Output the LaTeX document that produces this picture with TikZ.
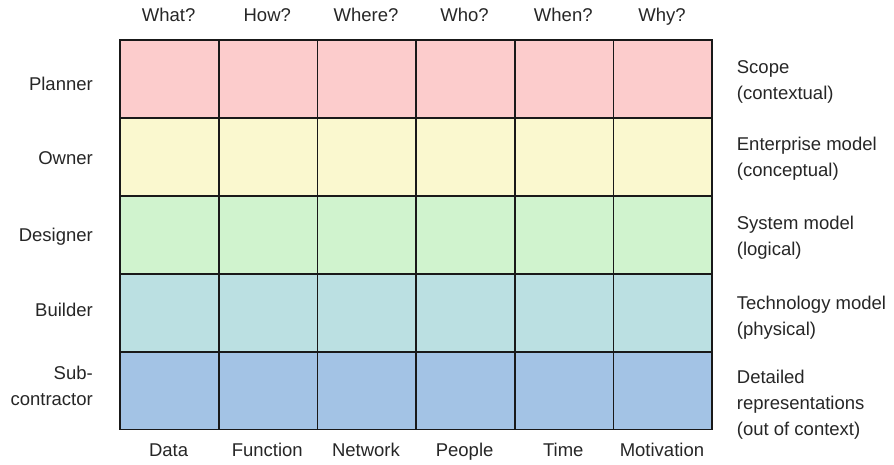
\documentclass[tikz,border=0pt]{standalone}
\usepackage{fontspec}
\setmainfont{Liberation Sans}
\definecolor{scopepink}{RGB}{252,204,204}
\definecolor{ownyellow}{RGB}{250,248,207}
\definecolor{sysgreen}{RGB}{208,243,206}
\definecolor{techcyan}{RGB}{187,224,226}
\definecolor{detblue}{RGB}{163,195,229}
\begin{document}
\begin{tikzpicture}[
			x=1pt, y=-1pt,
			every node/.style={font=\fontsize{18.5}{26}\selectfont, text=black!85, inner sep=0pt},
			cell/.style={draw=black!90, line width=1.6pt, minimum width=98.67pt, minimum height=77.9pt, anchor=north west},
			rowlabel/.style={anchor=base east, align=right},
			viewlabel/.style={anchor=base west, align=left},
			collabel/.style={anchor=base}
		]
		\useasboundingbox (0,0) rectangle (894,464);
		\foreach \clr [count=\i from 0] in {scopepink,ownyellow,sysgreen,techcyan,detblue}
			\foreach \j in {0,...,5}
				\node[cell, fill=\clr] (cell-\i-\j) at (119.3+\j*98.67, 39.3+\i*77.9) {};
		\foreach \q [count=\j from 0] in {What?,How?,Where?,Who?,When?,Why?}
			\node[collabel] (ask-\j) at (168.6+\j*98.67, 21.7) {\q};
		\foreach \q [count=\j from 0] in {Data,Function,Network,People,Time,Motivation}
			\node[collabel] (aspect-\j) at (168.6+\j*98.67, 456.7) {\q};
		\node[rowlabel] (planner) at (93,90.7) {Planner};
		\node[rowlabel] (owner) at (93,164) {Owner};
		\node[rowlabel] (designer) at (93,241) {Designer};
		\node[rowlabel] (builder) at (93,316) {Builder};
		\node[rowlabel] (sub) at (93,405) {Sub-\\contractor};
		\node[viewlabel] (scope) at (736.7,99.3) {Scope\\(contextual)};
		\node[viewlabel] (enterprise) at (736.7,176.5) {Enterprise model\\(conceptual)};
		\node[viewlabel] (system) at (736.7,255.9) {System model\\(logical)};
		\node[viewlabel] (technology) at (736.7,335.2) {Technology model\\(physical)};
		\node[viewlabel] (detailed) at (736.7,435.2) {Detailed\\representations\\(out of context)};
	\end{tikzpicture}
\end{document}
